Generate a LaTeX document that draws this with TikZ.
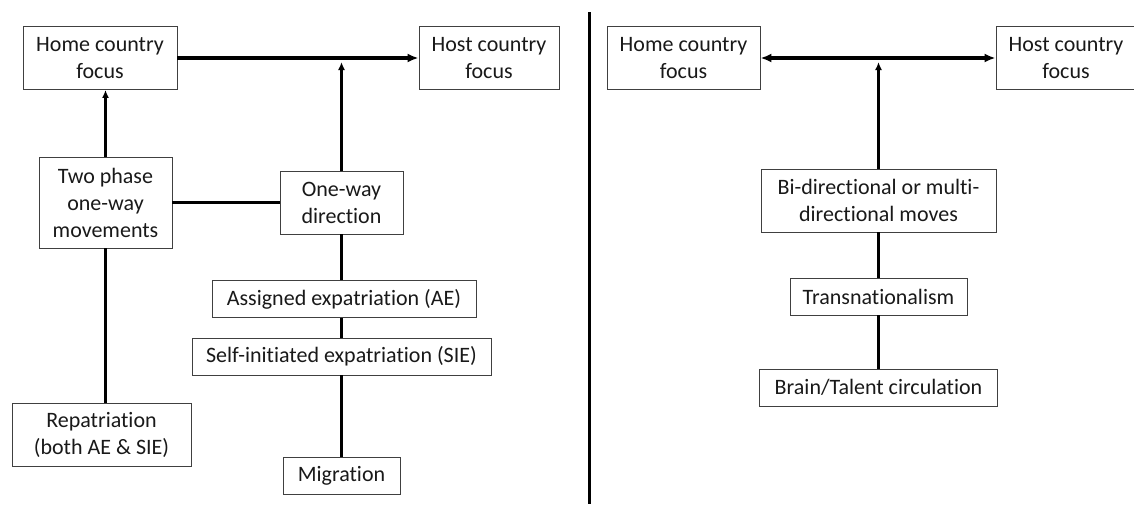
\documentclass[tikz,border=0pt]{standalone}
\usepackage{fontspec}
\setmainfont{Carlito}[Ligatures={NoCommon}]
\usetikzlibrary{arrows.meta,positioning}
\tikzset
{
    movebox/.style  = {rectangle, draw=black!75, line width=0.9pt, align=center, inner sep=0pt, text=black!90, font=\fontsize{22pt}{27pt}\selectfont},
    focusbox/.style = {movebox, minimum height=63pt},
    typebox/.style  = {movebox, minimum height=37pt},
    link/.style     = {line width=2.3pt},
    uparrow/.style  = {line width=2.3pt, -{Latex[length=8pt, width=7pt]}},
    bigarrow/.style = {line width=3.2pt, -{Latex[length=11pt, width=9pt]}},
    botharrow/.style = {line width=3.2pt, {Latex[length=11pt, width=9pt]}-{Latex[length=11pt, width=9pt]}},
    divider/.style  = {line width=3pt}
}

\begin{document}
\begin{tikzpicture}[x=1pt, y=-1pt]
   \useasboundingbox (0, 0) rectangle (1134, 504);

   % one-way moves
   \node (homeL)  [focusbox, minimum width=154pt]  at (100, 58)     {Home country\\focus};
   \node (hostL)  [focusbox, minimum width=140pt]  at (489, 58)     {Host country\\focus};
   \node (twoph)  [focusbox, minimum width=133pt, minimum height=91pt] at (105.5, 202.5) {Two phase\\one-way\\movements};
   \node (oneway) [focusbox, minimum width=123pt]  at (341.5, 202.5) {One-way\\direction};
   \node (repat)  [focusbox, minimum width=179pt]  at (101.5, 434.5) {Repatriation\\(both AE \& SIE)};
   \node (ae)     [typebox, minimum width=264pt]   at (344, 299)    {Assigned expatriation (AE)};
   \node (sie)    [typebox, minimum width=299pt]   at (341.5, 356.5) {Self-initiated expatriation (SIE)};
   \node (migr)   [typebox, minimum width=117pt]   at (341.5, 476)  {Migration};
   \coordinate (jL) at (oneway.north |- homeL.east);

   % circular moves
   \node (homeR)  [focusbox, minimum width=153pt]  at (683.5, 58)   {Home country\\focus};
   \node (hostR)  [focusbox, minimum width=140pt]  at (1066, 58)    {Host country\\focus};
   \node (bidir)  [focusbox, minimum width=235pt]  at (878.5, 200.5) {Bi-directional or multi-\\directional moves};
   \node (trans)  [typebox, minimum width=177pt]   at (878.5, 296.5) {Transnationalism};
   \node (brain)  [typebox, minimum width=238pt]   at (878.5, 387.5) {Brain/Talent circulation};
   \coordinate (jR) at (bidir.north |- homeR.east);

   \coordinate (dtop) at (589, 12);
   \coordinate (dbot) at (589, 504);
   \draw[divider] (dtop) -- (dbot);

   \path
      (homeL)        edge[bigarrow]  (hostL)
      (oneway.north) edge[uparrow, shorten >=4pt] (jL)
      (twoph.north)  edge[uparrow]   (twoph.north |- homeL.south)
      (twoph)        edge[link]      (oneway)
      (twoph.south)  edge[link]      (twoph.south |- repat.north)
      (oneway)       edge[link]      (oneway |- ae.north)
      (oneway |- ae.south)  edge[link] (oneway |- sie.north)
      (oneway |- sie.south) edge[link] (migr)
      (homeR)        edge[botharrow] (hostR)
      (bidir.north)  edge[uparrow, shorten >=4pt] (jR)
      (bidir)        edge[link]      (trans)
      (trans)        edge[link]      (brain);
\end{tikzpicture}
\end{document}
